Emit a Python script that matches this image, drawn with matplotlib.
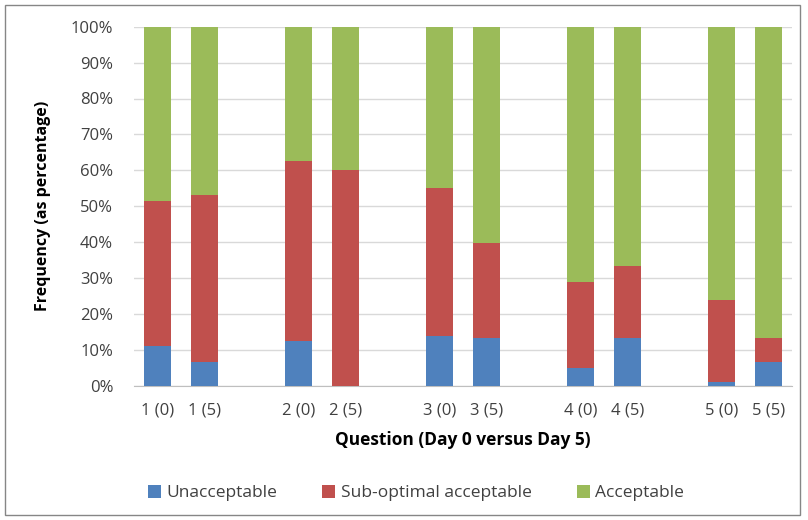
import matplotlib
matplotlib.use("Agg")
import matplotlib.pyplot as plt
from matplotlib.patches import Rectangle
from matplotlib.ticker import PercentFormatter

plt.rcParams['font.family'] = ['Open Sans', 'DejaVu Sans']

labels = ["1 (0)", "1 (5)", "2 (0)", "2 (5)", "3 (0)", "3 (5)",
          "4 (0)", "4 (5)", "5 (0)", "5 (5)"]
slots = [0, 1, 3, 4, 6, 7, 9, 10, 12, 13]
unacceptable = [11.1, 6.5, 12.5, 0.0, 13.8, 13.3, 4.9, 13.3, 1.1, 6.5]
suboptimal_top = [51.4, 53.2, 62.6, 60.0, 55.2, 39.8, 28.8, 33.4, 24.0, 13.3]
suboptimal = [t - u for t, u in zip(suboptimal_top, unacceptable)]
acceptable = [100 - t for t in suboptimal_top]

blue = "#4F81BD"
red = "#C0504D"
green = "#9BBB59"

fig = plt.figure(figsize=(8.08, 5.2), dpi=100)
ax = fig.add_axes([134 / 808, 1 - 385.7 / 520, 658 / 808, 359 / 520])

w = 0.575
ax.bar(slots, unacceptable, w, color=blue, label="Unacceptable", zorder=3)
ax.bar(slots, suboptimal, w, bottom=unacceptable, color=red,
       label="Sub-optimal acceptable", zorder=3)
ax.bar(slots, acceptable, w, bottom=suboptimal_top, color=green,
       label="Acceptable", zorder=3)

ax.set_xlim(-0.5, 13.5)
ax.set_ylim(0, 100)
ax.set_yticks(range(0, 101, 10))
ax.yaxis.set_major_formatter(PercentFormatter(decimals=0))
ax.set_xticks(slots)
ax.set_xticklabels(labels)
ax.grid(axis='y', color="#D9D9D9", linewidth=1, zorder=0)
for s in ["top", "right", "left"]:
    ax.spines[s].set_visible(False)
ax.spines["bottom"].set_color("#BFBFBF")
ax.tick_params(length=0, labelsize=12, colors="#404040")
ax.tick_params(axis='x', pad=12)
ax.tick_params(axis='y', pad=15)

ax.set_xlabel("Question (Day 0 versus Day 5)", fontsize=12.5, fontweight='bold',
              labelpad=9)
ax.set_ylabel("Frequency (as percentage)", fontsize=11.5, fontweight='bold',
              labelpad=14)

ax.legend(loc="center", bbox_to_anchor=(416 / 808, 1 - 493 / 520),
          bbox_transform=fig.transFigure, ncol=3, frameon=False,
          fontsize=12.5, handlelength=0.75, handleheight=0.75,
          handletextpad=0.3, columnspacing=2.6, labelcolor="#404040")

fig.patches.append(Rectangle((5 / 808, 5 / 520), 795 / 808, 510 / 520,
                             transform=fig.transFigure, fill=False,
                             edgecolor="#868686", linewidth=1))

fig.savefig("out.png", dpi=100)
